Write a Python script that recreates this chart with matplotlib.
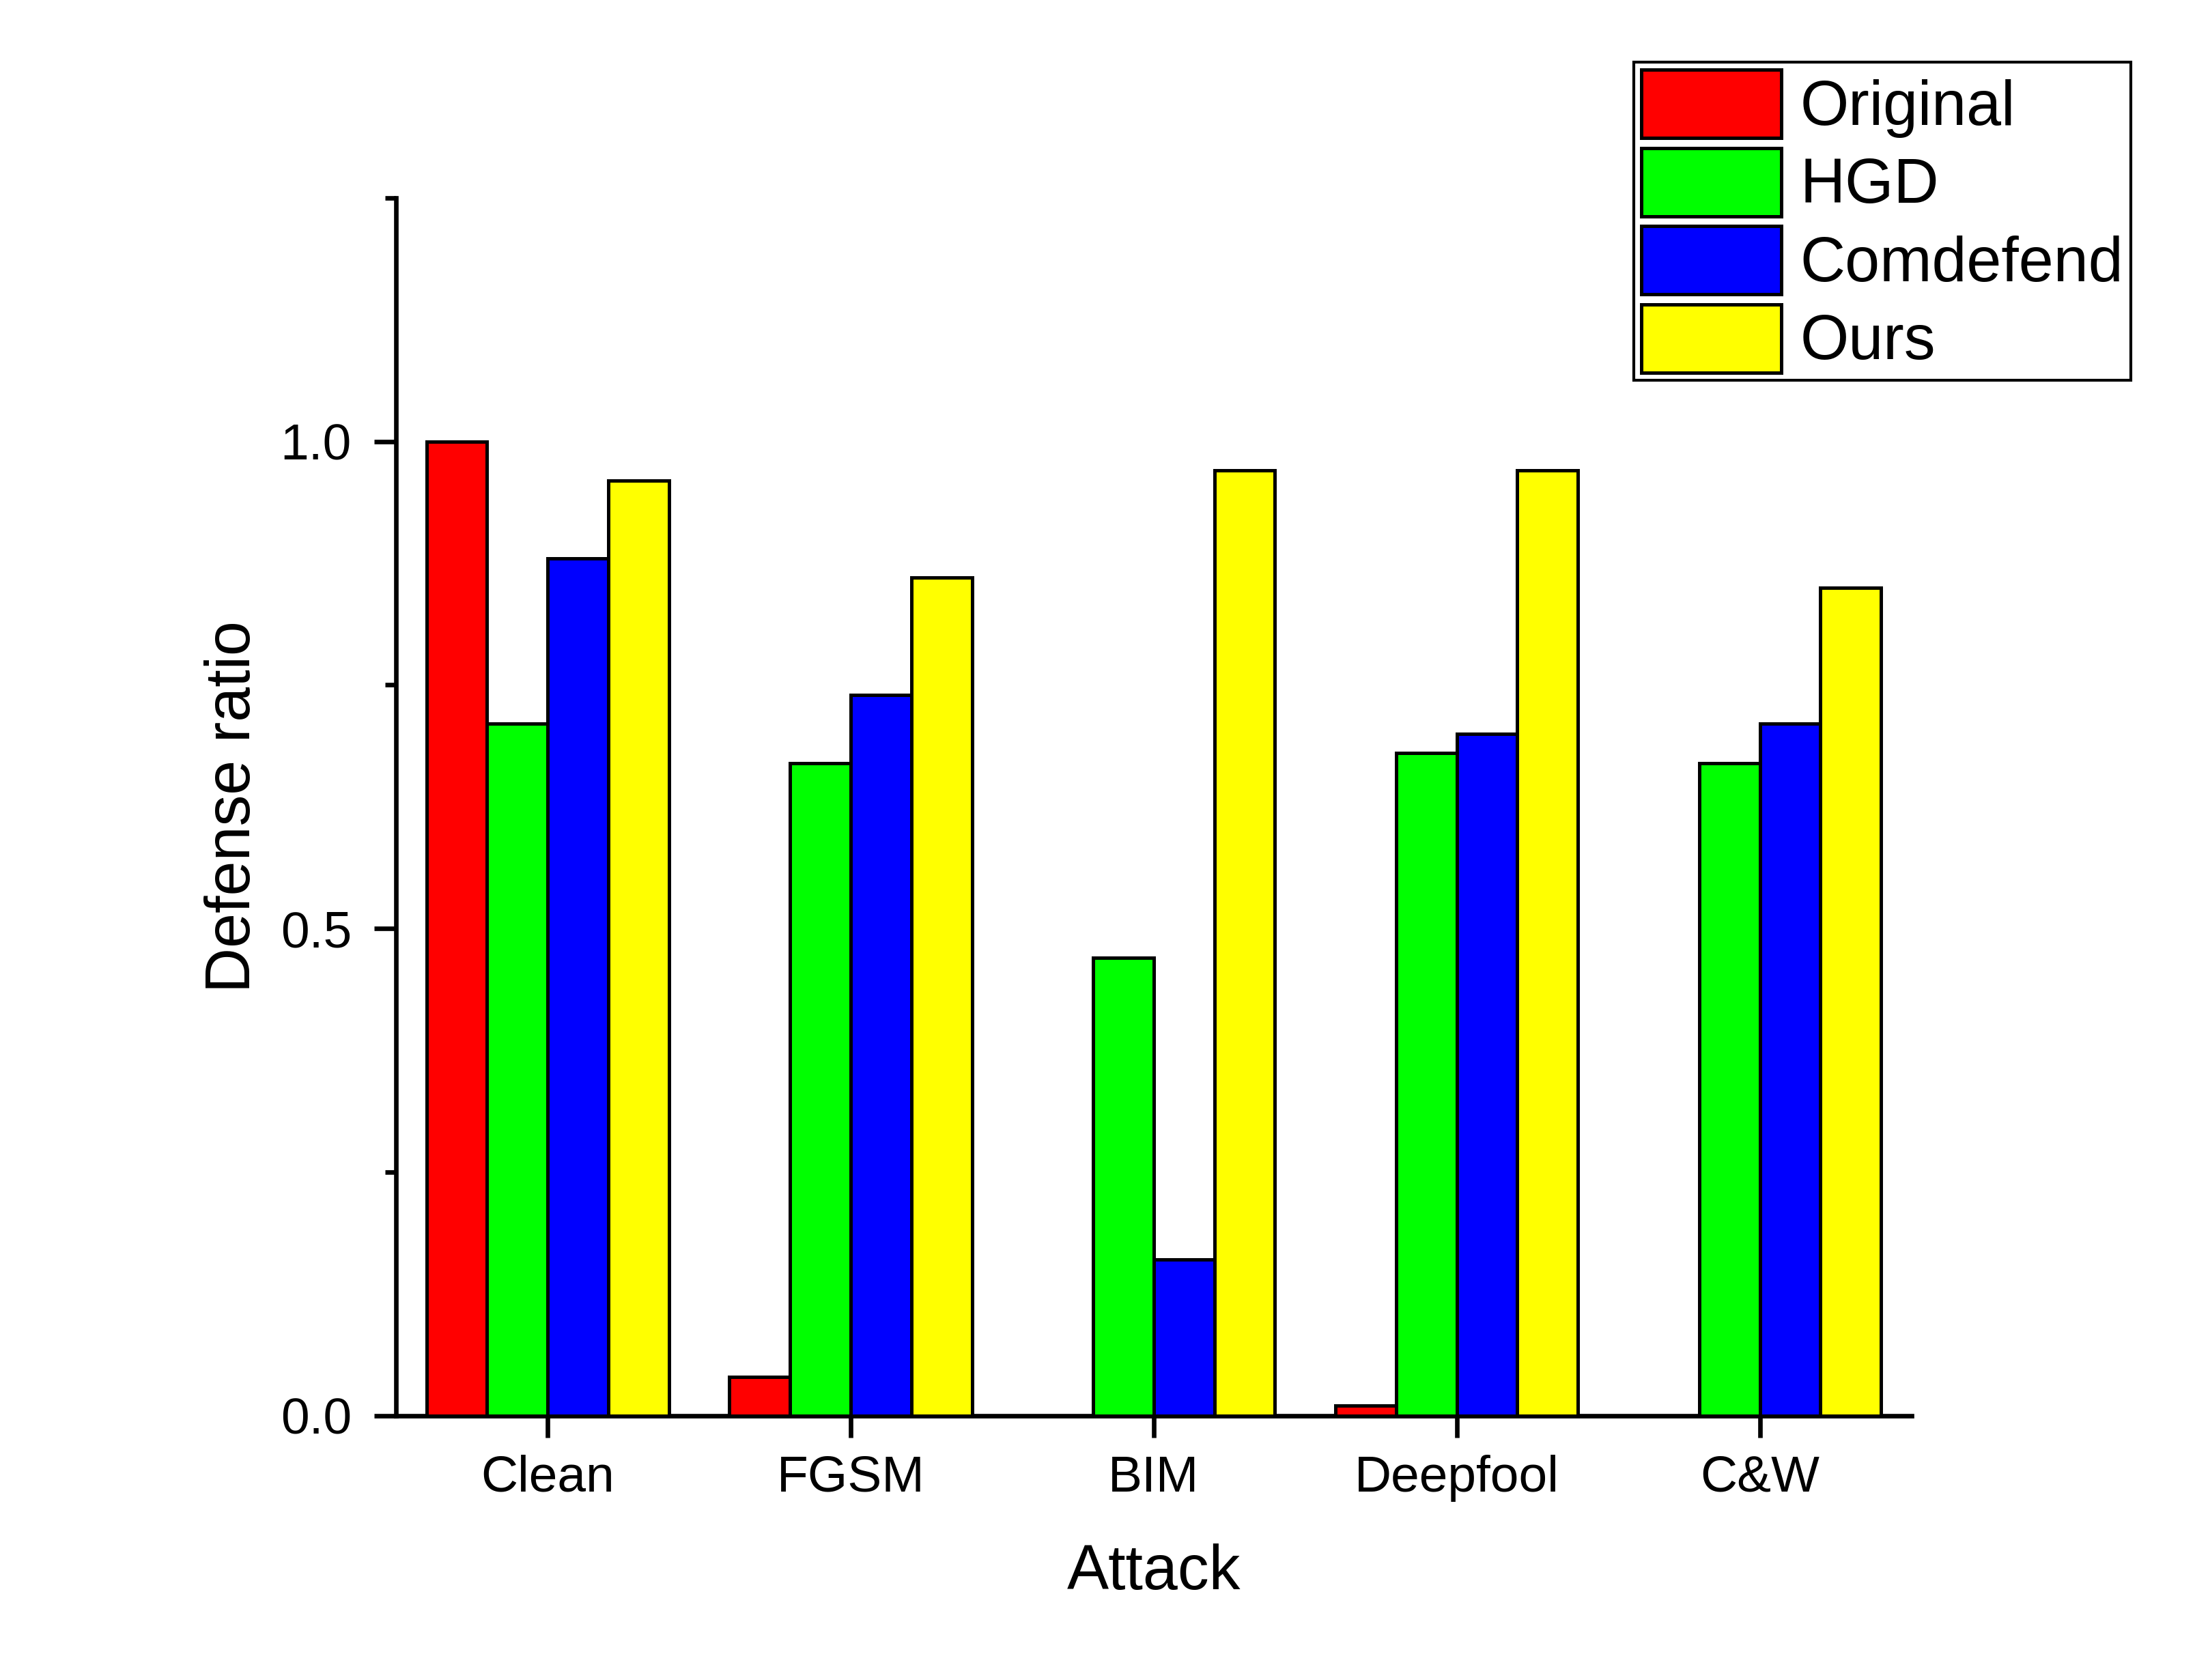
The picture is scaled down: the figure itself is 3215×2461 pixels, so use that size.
import numpy as np
import matplotlib
matplotlib.use("Agg")
import matplotlib.pyplot as plt
from matplotlib.ticker import MultipleLocator

# data
attacks = ["Clean", "FGSM", "BIM", "Deepfool", "C&W"]
methods = ["Original", "HGD", "Comdefend", "Ours"]
original = [1.00, 0.04, 0.00, 0.01, 0.00]
hgd = [0.71, 0.67, 0.47, 0.68, 0.67]
comdefend = [0.88, 0.74, 0.16, 0.70, 0.71]
ours = [0.96, 0.86, 0.97, 0.97, 0.85]
colors = ["#FF0000", "#00FF00", "#0000FF", "#FFFF00"]

plt.rcParams["font.family"] = ["Liberation Sans", "DejaVu Sans"]

fig = plt.figure(figsize=(16.08, 12.305), dpi=200)
ax = fig.add_axes([0.1804, 0.1574, 0.6901, 0.7248])

x = np.arange(len(attacks))
width = 0.2
series = [original, hgd, comdefend, ours]
for i, (name, vals, c) in enumerate(zip(methods, series, colors)):
    ax.bar(x + (i - 1.5) * width, vals, width, color=c, edgecolor="black",
           linewidth=1.8, label=name, zorder=3)

ax.set_xlim(-0.5, 4.5)
ax.set_ylim(0, 1.25)
ax.set_xticks(x)
ax.set_xticklabels(attacks)
ax.yaxis.set_major_locator(MultipleLocator(0.5))
ax.yaxis.set_minor_locator(MultipleLocator(0.25))
ax.yaxis.set_major_formatter(matplotlib.ticker.FormatStrFormatter("%.1f"))

for side in ["top", "right"]:
    ax.spines[side].set_visible(False)
for side in ["left", "bottom"]:
    ax.spines[side].set_linewidth(2.4)

ax.tick_params(axis="both", which="major", direction="out", length=11.5,
               width=2.4, labelsize=27, pad=9)
ax.tick_params(axis="y", which="major", pad=12)
ax.tick_params(axis="y", which="minor", direction="out", length=5.8, width=2.4)

ax.set_xlabel("Attack", fontsize=33)
ax.set_ylabel("Defense ratio", fontsize=33)
ax.xaxis.set_label_coords(0.5, -0.105)
ax.yaxis.set_label_coords(-0.088, 0.5)

leg = fig.legend(loc="upper left", bbox_to_anchor=(0.744, 0.963), fontsize=33,
                 frameon=True, fancybox=False, shadow=False, borderpad=0.12,
                 handlelength=2.24, handleheight=1.3, labelspacing=0.16,
                 handletextpad=0.3, borderaxespad=0.0)
leg.get_frame().set_edgecolor("black")
leg.get_frame().set_linewidth(1.5)
leg.get_frame().set_alpha(1)

fig.savefig("out.png", dpi=200, facecolor="white")
